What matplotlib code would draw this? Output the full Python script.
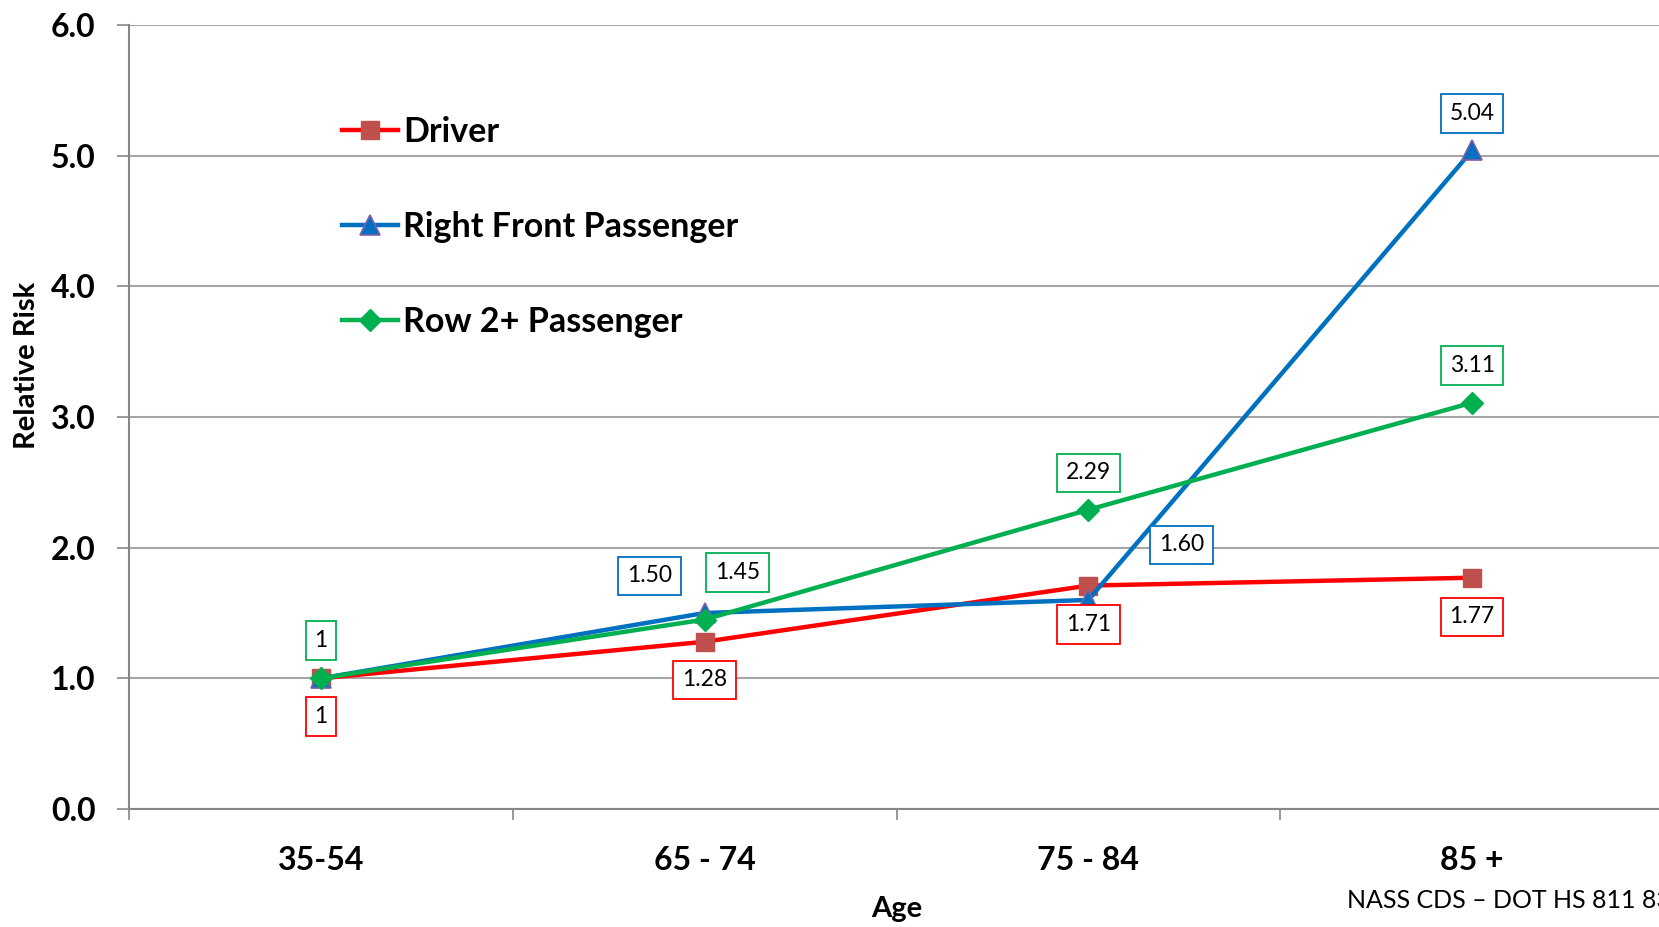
import numpy as np
import matplotlib
matplotlib.use('Agg')
import matplotlib.pyplot as plt
from matplotlib.ticker import FixedLocator, NullFormatter, FixedFormatter

plt.rcParams['font.family'] = ['Lato', 'DejaVu Sans']

ages = ['35-54', '65 - 74', '75 - 84', '85 +']
driver = [1.00, 1.28, 1.71, 1.77]
right_front = [1.00, 1.50, 1.60, 5.04]
row2 = [1.00, 1.45, 2.29, 3.11]

# label text per point (None = no label shown)
driver_labels = ['1', '1.28', '1.71', '1.77']
right_front_labels = [None, '1.50', '1.60', '5.04']
row2_labels = ['1', '1.45', '2.29', '3.11']

# label offsets in pixels from the point
driver_offsets = [(0, -38), (0, -38), (0, -39), (0, -39)]
right_front_offsets = [None, (-55, 37), (93, 55), (0, 37)]
row2_offsets = [(0, 38), (33, 47), (0, 37), (0, 37)]

RED, RED_MK = '#FF0000', '#C0504D'
BLUE = '#0070C0'
GREEN = '#00B050'
GRID = '#A6A6A6'
AXIS = '#878787'

fig = plt.figure(figsize=(16.59, 9.27), dpi=100)
ax = fig.add_axes([129 / 1659, 118 / 927, 1535 / 1659, 784 / 927])

x = np.arange(len(ages))
ax.plot(x, driver, color=RED, lw=3.2, marker='s', ms=13, mfc=RED_MK, mec=RED_MK,
        label='Driver', zorder=3)
ax.plot(x, right_front, color=BLUE, lw=3.2, marker='^', ms=14, mfc=BLUE, mec='#7F5FA8',
        mew=1.2, label='Right Front Passenger', zorder=4)
ax.plot(x, row2, color=GREEN, lw=3.2, marker='D', ms=11, mfc=GREEN, mec=GREEN,
        label='Row 2+ Passenger', zorder=5)


def add_labels(vals, labels, offsets, color):
    for xi, v, lab, off in zip(x, vals, labels, offsets):
        if lab is None:
            continue
        ax.annotate(lab, (xi, v), xytext=off, textcoords='offset pixels',
                    ha='center', va='center', fontsize=16.5, color='black',
                    bbox=dict(boxstyle='square,pad=0.38', fc='white', ec=color, lw=1.3),
                    zorder=6)


add_labels(driver, driver_labels, driver_offsets, RED)
add_labels(right_front, right_front_labels, right_front_offsets, BLUE)
add_labels(row2, row2_labels, row2_offsets, GREEN)

ax.set_xlim(-0.5, 3.5)
ax.set_ylim(0, 6)
ax.set_yticks(np.arange(0, 7, 1))
ax.set_yticklabels([f'{v:.1f}' for v in np.arange(0, 7, 1)])
ax.yaxis.grid(True, color=GRID, lw=1.5)
ax.set_axisbelow(True)

ax.xaxis.set_major_locator(FixedLocator([-0.5, 0.5, 1.5, 2.5, 3.5]))
ax.xaxis.set_major_formatter(NullFormatter())
ax.xaxis.set_minor_locator(FixedLocator(x))
ax.xaxis.set_minor_formatter(FixedFormatter(ages))
ax.tick_params(axis='x', which='major', length=8, width=1.2, color=AXIS, direction='out')
ax.tick_params(axis='x', which='minor', length=0, pad=27, labelsize=23)
ax.tick_params(axis='y', length=9, width=1.2, color=AXIS, pad=15, labelsize=23)
for lab in ax.get_xticklabels(minor=True) + ax.get_yticklabels():
    lab.set_fontweight('bold')

for side in ['top', 'right']:
    ax.spines[side].set_visible(False)
for side in ['left', 'bottom']:
    ax.spines[side].set_color(AXIS)
    ax.spines[side].set_linewidth(1.5)

ax.set_ylabel('Relative Risk', fontsize=21, fontweight='bold')
ax.yaxis.set_label_coords(-0.058, 0.566)
ax.set_xlabel('Age', fontsize=21, fontweight='bold')
ax.xaxis.set_label_coords(0.5, -0.111)

leg = ax.legend(loc='upper left', bbox_to_anchor=(342 / 1659, 1 - 116 / 927),
                bbox_transform=fig.transFigure, frameon=False, fontsize=24.5,
                handlelength=1.65, handletextpad=0.15, labelspacing=1.85,
                borderpad=0, borderaxespad=0)
for t in leg.get_texts():
    t.set_fontweight('bold')

# source note runs off the right edge of the figure
fig.text(1347 / 1659, 26 / 927, 'NASS CDS – DOT HS 811 830', fontsize=18,
         ha='left', va='center')

fig.savefig('out.png', dpi=100)
